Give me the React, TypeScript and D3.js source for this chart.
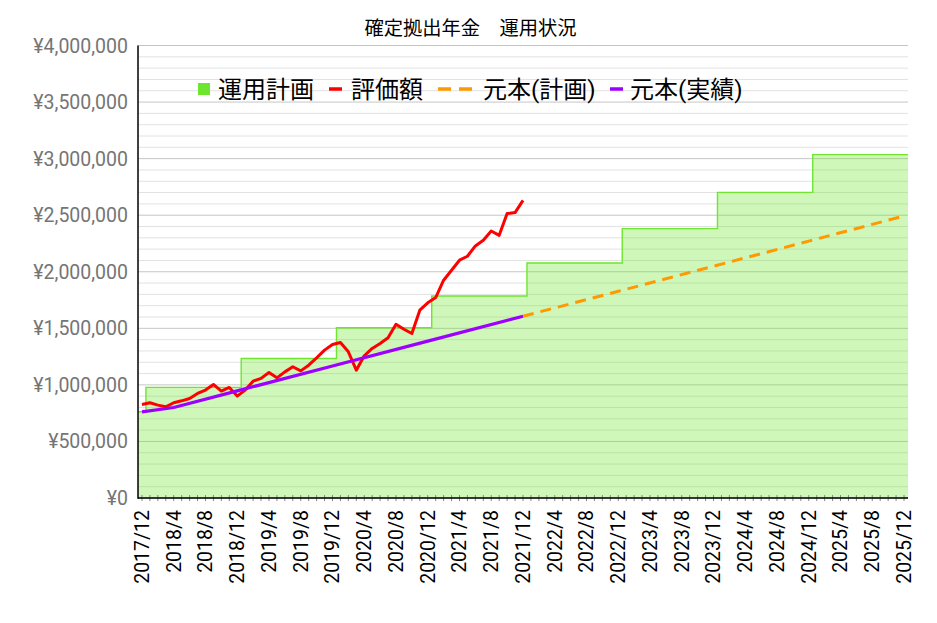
import React from 'react';
import * as d3 from 'd3';

// ---- categories ----
const months: string[] = [];
for (let i = 0; i <= 96; i++) {
  const t = 2017 * 12 + 11 + i;
  months.push(`${Math.floor(t / 12)}/${(t % 12) + 1}`);
}

// ---- series ----
// 運用計画 (stepped plan): month where a level starts, and its value
const planMonths = ['2017/12', '2018/1', '2019/1', '2020/1', '2021/1', '2022/1', '2023/1', '2024/1', '2025/1'];
const planValues = [762000, 978000, 1233000, 1505000, 1785000, 2078000, 2381000, 2702000, 3035000];

// 評価額 monthly from 2017/12 to 2021/12
const valuationValues = [
  827000, 842000, 821000, 806000, 842000, 859000, 880000, 924000, 954000, 1004000,
  945000, 977000, 901000, 954000, 1033000, 1057000, 1110000, 1062000, 1115000, 1160000,
  1124000, 1174000, 1239000, 1307000, 1357000, 1375000, 1292000, 1130000, 1257000, 1322000,
  1366000, 1416000, 1536000, 1492000, 1454000, 1660000, 1725000, 1772000, 1925000, 2013000,
  2102000, 2137000, 2228000, 2278000, 2360000, 2322000, 2514000, 2523000, 2631000,
];

// 元本(実績)
const actualMonths = ['2017/12', '2018/4', '2018/12', '2019/12', '2020/12', '2021/12'];
const actualValues = [762000, 800000, 947000, 1167000, 1387000, 1607000];

// 元本(計画)
const plannedMonths = ['2021/12', '2022/12', '2023/12', '2024/12', '2025/12'];
const plannedValues = [1607000, 1827000, 2049000, 2271000, 2493000];

const yTicks = [0, 500000, 1000000, 1500000, 2000000, 2500000, 3000000, 3500000, 4000000];
const yMinorStep = 100000;

const title = '確定拠出年金　運用状況';
const legendLabels = ['運用計画', '評価額', '元本(計画)', '元本(実績)'];

const GREEN = '#6ee630';
const RED = '#ff0000';
const ORANGE = '#ff9900';
const PURPLE = '#9d00ff';

export default function App() {
  const W = 937, H = 623;
  const left = 138, right = 908, top = 45.5, bottom = 498;

  const x = d3.scaleBand<string>().domain(months).range([left, right]).padding(0);
  const bw = x.bandwidth();
  const cx = (m: string) => (x(m) as number) + bw / 2;
  const y = d3.scaleLinear().domain([0, 4000000]).range([bottom, top]);

  const minor = d3.range(0, 4000000 + 1, yMinorStep);

  const planPts = planMonths.map((m, i) => ({ x: x(m) as number, v: planValues[i] }));
  planPts.push({ x: right, v: planValues[planValues.length - 1] });
  const area = d3.area<{ x: number; v: number }>().x(d => d.x).y0(bottom).y1(d => y(d.v)).curve(d3.curveStepAfter);
  const topLine = d3.line<{ x: number; v: number }>().x(d => d.x).y(d => y(d.v)).curve(d3.curveStepAfter);

  const line = d3.line<{ m: string; v: number }>().x(d => cx(d.m)).y(d => y(d.v));
  const valuation = valuationValues.map((v, i) => ({ m: months[i], v }));
  const actual = actualMonths.map((m, i) => ({ m, v: actualValues[i] }));
  const planned = plannedMonths.map((m, i) => ({ m, v: plannedValues[i] }));

  const axisFont = 'Roboto, "Noto Sans CJK JP", sans-serif';
  const cjkFont = 'Roboto, "Noto Sans CJK JP", sans-serif';

  return (
    <svg width={W} height={H} style={{ position: 'absolute', left: 0, top: 0, background: '#fff' }}>
      <rect x={0} y={0} width={W} height={H} fill="#fff" />
      {/* grid */}
      {minor.map(v => (
        <line key={v} x1={left} x2={right} y1={y(v)} y2={y(v)}
          stroke={v % 500000 === 0 ? '#c6c6c6' : '#e2e2e2'} strokeWidth={1} />
      ))}
      {/* plan area */}
      <path d={area(planPts) || ''} fill={GREEN} fillOpacity={0.333} />
      <path d={topLine(planPts) || ''} fill="none" stroke={GREEN} strokeWidth={1.4} />
      {/* planned principal */}
      <path d={line(planned) || ''} fill="none" stroke={ORANGE} strokeWidth={3} strokeDasharray="11 7" />
      {/* valuation */}
      <path d={line(valuation) || ''} fill="none" stroke={RED} strokeWidth={3} strokeLinejoin="round" />
      {/* actual principal */}
      <path d={line(actual) || ''} fill="none" stroke={PURPLE} strokeWidth={3.2} />

      {/* axes */}
      {months.map(m => (
        <line key={m} x1={cx(m)} x2={cx(m)} y1={495} y2={501} stroke="#888" strokeWidth={1} />
      ))}
      <line x1={left} x2={left} y1={top} y2={bottom + 0.75} stroke="#000" strokeWidth={1.5} />
      <line x1={left} x2={right} y1={bottom} y2={bottom} stroke="#000" strokeWidth={1.5} />

      {yTicks.map(v => (
        <text key={v} x={128} y={y(v)} dy="0.36em" textAnchor="end" fontFamily={axisFont}
          fontSize={19.5} fill="#757575">{'¥' + d3.format(',')(v)}</text>
      ))}
      {months.filter((_, i) => i % 4 === 0).map(m => (
        <text key={m} transform={`translate(${cx(m)},510) rotate(-90)`} dy="0.35em" textAnchor="end"
          fontFamily={axisFont} fontSize={19.5} fill="#000">{m}</text>
      ))}

      {/* title */}
      <text x={470.5} y={35} textAnchor="middle" fontFamily={cjkFont} fontSize={19.3} fill="#000">{title}</text>

      {/* legend */}
      <g fontFamily={cjkFont} fontSize={24} fill="#000">
        <rect x={198} y={83} width={12} height={12} fill={GREEN} />
        <text x={218} y={98}>{legendLabels[0]}</text>
        <line x1={329} x2={342} y1={89} y2={89} stroke={RED} strokeWidth={3.5} />
        <text x={351} y={98}>{legendLabels[1]}</text>
        <line x1={438} x2={473} y1={89} y2={89} stroke={ORANGE} strokeWidth={3.5} strokeDasharray="13 8" />
        <text x={483} y={98}>{legendLabels[2]}</text>
        <line x1={610} x2={623} y1={89} y2={89} stroke={PURPLE} strokeWidth={3.5} />
        <text x={630} y={98}>{legendLabels[3]}</text>
      </g>
    </svg>
  );
}
